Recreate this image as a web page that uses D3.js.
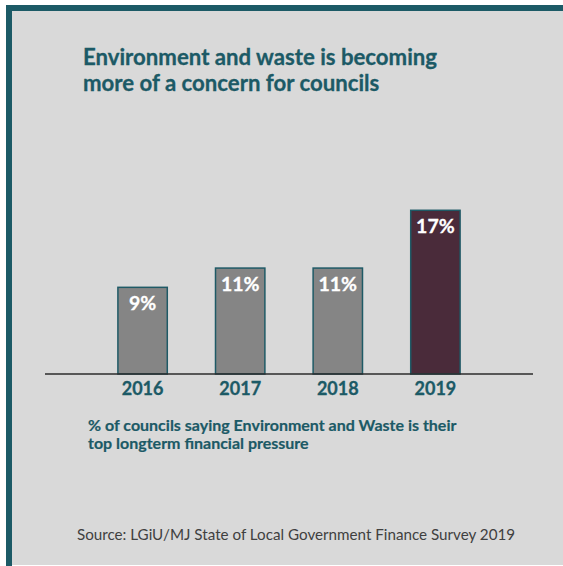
<!DOCTYPE html>
<html>
<head>
<meta charset="utf-8">
<script src="https://cdn.jsdelivr.net/npm/d3@7"></script>
<style>
  html, body { margin: 0; padding: 0; background: #ffffff; }
  svg { display: block; }
</style>
</head>
<body>
<script>
// Share of councils naming Environment and Waste as their top long-term pressure
const years = ["2016", "2017", "2018", "2019"];
const shares = [9, 11, 11, 17];
const highlightYear = "2019";

const titleLines = ["Environment and waste is becoming", "more of a concern for councils"];
const noteLines = ["% of councils saying Environment and Waste is their", "top longterm financial pressure"];
const sourceText = "Source: LGiU/MJ State of Local Government Finance Survey 2019";

const W = 563, H = 566;
const teal = "#1c5a66";
const fontBold = "Lato, 'Open Sans', sans-serif";

const svg = d3.select("body").append("svg")
  .attr("width", W).attr("height", H);

// Panel with a teal frame on the top and left edges
svg.append("rect").attr("x", 6).attr("y", 5).attr("width", W - 6).attr("height", H - 6)
  .attr("fill", "#d9d9d9");
svg.append("rect").attr("x", 6).attr("y", 5).attr("width", W - 6).attr("height", 6).attr("fill", teal);
svg.append("rect").attr("x", 6).attr("y", 5).attr("width", 6).attr("height", H - 5).attr("fill", teal);

// Title
svg.append("g").selectAll("text").data(titleLines).join("text")
  .attr("x", 83).attr("y", (d, i) => 65 + i * 26)
  .attr("font-family", fontBold).attr("font-weight", 700).attr("font-size", 22.2)
  .attr("fill", teal).attr("stroke", teal).attr("stroke-width", 0.3)
  .text(d => d);

// Scales
const baseY = 374;
const x = d3.scaleBand().domain(years).range([45, 533])
  .paddingInner(0.494).paddingOuter(0.747);
const y = d3.scaleLinear().domain([0, 17]).range([baseY, baseY - 17 * 9.63]);

const data = years.map((yr, i) => ({ year: yr, value: shares[i] }));

// Bars
svg.append("g").selectAll("rect").data(data).join("rect")
  .attr("x", d => x(d.year)).attr("y", d => y(d.value))
  .attr("width", x.bandwidth()).attr("height", d => y(0) - y(d.value))
  .attr("fill", d => d.year === highlightYear ? "#4a2b3a" : "#858585")
  .attr("stroke", "#1f5a66").attr("stroke-width", 1.5);

// Value labels inside the bars
svg.append("g").selectAll("text").data(data).join("text")
  .attr("x", d => x(d.year) + x.bandwidth() / 2).attr("y", d => y(d.value) + 23)
  .attr("text-anchor", "middle")
  .attr("font-family", fontBold).attr("font-weight", 700).attr("font-size", 19.5)
  .attr("fill", "#ffffff").attr("stroke", "#ffffff").attr("stroke-width", 0.3)
  .text(d => d.value + "%");

// Category axis
const axis = svg.append("g").attr("transform", `translate(0,${baseY})`)
  .call(d3.axisBottom(x).tickSize(0).tickPadding(8));
axis.select(".domain").attr("stroke", "#2b2b2b").attr("stroke-width", 1.5)
  .attr("d", "M45,0H533");
axis.selectAll(".tick text")
  .attr("font-family", fontBold).attr("font-weight", 700).attr("font-size", 18)
  .attr("fill", teal).attr("stroke", teal).attr("stroke-width", 0.3);

// Note under the axis
svg.append("g").selectAll("text").data(noteLines).join("text")
  .attr("x", 88).attr("y", (d, i) => 431 + i * 18)
  .attr("font-family", fontBold).attr("font-weight", 700).attr("font-size", 16)
  .attr("fill", teal).attr("stroke", teal).attr("stroke-width", 0.2)
  .text(d => d);

// Source line
svg.append("text").attr("x", 77).attr("y", 540)
  .attr("font-family", "Lato, 'Open Sans', sans-serif").attr("font-size", 15.2)
  .attr("fill", "#404040").text(sourceText);
</script>
</body>
</html>
